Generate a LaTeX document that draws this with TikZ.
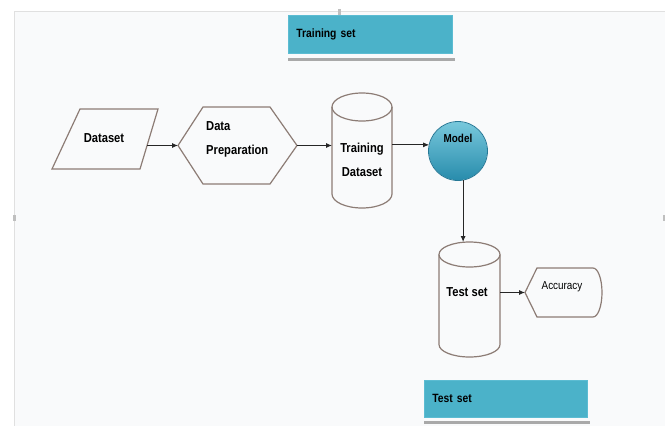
\documentclass[tikz,border=0pt]{standalone}
\usepackage{fontspec}
\setmainfont{Liberation Sans}[FakeStretch=0.86]
\usetikzlibrary{arrows.meta}
\definecolor{edgec}{HTML}{8C7C75}
\definecolor{boxfill}{HTML}{4BB2C9}
\definecolor{boxedge}{HTML}{5CBCD2}
\definecolor{panel}{HTML}{F9FAFB}
\definecolor{shadowc}{HTML}{A9A9A9}
\definecolor{balltop}{RGB}{120,200,220}
\definecolor{ballbot}{RGB}{40,140,172}
\definecolor{balledge}{RGB}{38,120,150}
\tikzset{
  shp/.style={draw=edgec, line width=1.2pt},
  lbl/.style={font=\bfseries\fontsize{13}{24}\selectfont, inner sep=0pt},
  hitbox/.style={inner sep=0pt, outer sep=0pt},
  conn/.style={draw=black!85, line width=0.9pt, -{Latex[length=6pt,width=5pt]}},
  tealbox/.style={fill=boxfill, draw=boxedge, line width=0.8pt, inner xsep=8pt, inner ysep=0pt,
    font=\bfseries\fontsize{12}{14}\selectfont, align=left, anchor=north west},
  handle/.style={fill=black!25, inner sep=0pt, minimum width=3pt, minimum height=6pt}
}
\begin{document}
\begin{tikzpicture}[x=1pt,y=1pt]
\useasboundingbox (0,0) rectangle (665,-426);
\fill[white] (0,0) rectangle (665,-426);
\fill[panel] (14,-11) rectangle (665,-426);
\draw[black!12, line width=0.6pt] (14,-426) -- (14,-11) -- (665,-11);
\node[handle] (h1) at (339,-12) {};
\node[handle] (h2) at (14,-218) {};
\node[handle] (h3) at (664,-218) {};

% Training set box
\fill[shadowc] (288,-57.5) rectangle (455,-60.5);
\node[tealbox, text width=148pt, minimum height=38pt] (trbox) at (288,-15) {Training set};

% Test set box
\fill[shadowc] (424,-420.5) rectangle (590,-423.5);
\node[tealbox, text width=147pt, minimum height=37pt] (tebox) at (424,-380) {Test set};

% Dataset parallelogram
\draw[shp] (80,-109) -- (158,-109) -- (140,-169) -- (52,-169) -- cycle;
\node[lbl, minimum width=86pt] (ds) at (104,-138) {Dataset};

% Data Preparation hexagon
\draw[shp] (178,-145.5) -- (203,-107) -- (270,-107) -- (297,-145.5) -- (270,-184) -- (203,-184) -- cycle;
\node[hitbox, minimum width=119pt, minimum height=77pt] (prep) at (237.5,-145.5) {};
\node[lbl, anchor=north west, align=left] (preptext) at (206,-121) {Data\\Preparation};

% Training Dataset cylinder
\node[hitbox, minimum width=60pt, minimum height=115pt] (td) at (362,-150.5) {};
\draw[shp] (362,-107) ellipse[x radius=30, y radius=14];
\draw[shp] (332,-107) -- (332,-194) arc[start angle=180, end angle=360, x radius=30, y radius=14] -- (392,-107);
\node[lbl, align=center] (tdtext) at (362,-160) {Training\\Dataset};

% Model circle
\node[circle, hitbox, minimum size=59pt] (model) at (458,-151) {};
\shade[top color=balltop, bottom color=ballbot] (458,-151) circle[radius=29.2];
\draw[balledge, line width=0.8pt] (458,-151) circle[radius=29.5];
\node[lbl, font=\bfseries\fontsize{11.5}{13}\selectfont] (modeltext) at (458,-138) {Model};

% Test set cylinder
\node[hitbox, minimum width=61pt, minimum height=115pt] (ts) at (469.5,-299.5) {};
\draw[shp] (469.5,-254.5) ellipse[x radius=30.5, y radius=12.5];
\draw[shp] (439,-254.5) -- (439,-344.5) arc[start angle=180, end angle=360, x radius=30.5, y radius=12.5] -- (500,-254.5);
\node[lbl] (tstext) at (467,-292) {Test set};

% Accuracy display shape
\draw[shp] (525,-292.5) -- (537,-268) -- (593,-268) arc[start angle=90, end angle=-90, x radius=9, y radius=24.5] -- (537,-317) -- cycle;
\node[hitbox, minimum width=77pt, minimum height=49pt] (acc) at (563.5,-292.5) {};
\node[inner sep=0pt, font=\fontsize{11.5}{13}\selectfont] (acctext) at (562,-287) {Accuracy};

% Connectors
\draw[conn] (ds.east |- prep.west) -- (prep.west);
\draw[conn] (prep.east) -- (prep.east -| td.west);
\draw[conn] (td.east |- model.168) -- (model.168);
\draw[conn] (model.-80) -- (model.-80 |- ts.north);
\draw[conn] (ts.east |- acc.west) -- (acc.west);
\end{tikzpicture}
\end{document}
